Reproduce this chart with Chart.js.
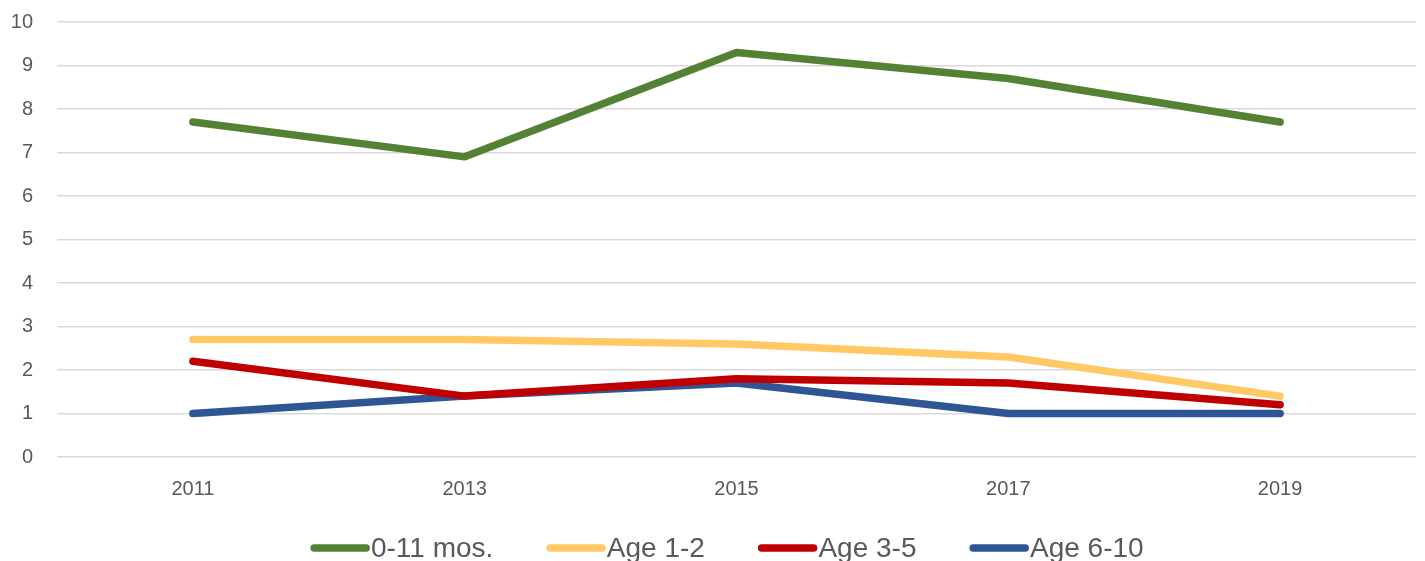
<!DOCTYPE html>
<html>
<head>
<meta charset="utf-8">
<script src="https://cdn.jsdelivr.net/npm/chart.js@4"></script>
<style>
  html, body { margin: 0; padding: 0; background: #fff; overflow: hidden; }
  #wrap { width: 1425px; height: 561px; }
</style>
</head>
<body>
<div id="wrap"><canvas id="ageChart"></canvas></div>
<script>
const years = ['2011', '2013', '2015', '2017', '2019'];
const infants = [7.7, 6.9, 9.3, 8.7, 7.7];
const age1to2 = [2.7, 2.7, 2.6, 2.3, 1.4];
const age3to5 = [2.2, 1.4, 1.8, 1.7, 1.2];
const age6to10 = [1.0, 1.4, 1.7, 1.0, 1.0];

// legend drawn by hand so the long markers sit right against the text, like the original
const bottomLegend = {
  id: 'bottomLegend',
  afterDraw(chart) {
    const ctx = chart.ctx;
    const sets = chart.data.datasets;
    const markLen = 52, cap = 3.75, gap = 53, y = 548;
    ctx.save();
    ctx.font = '28px "Liberation Sans", Arial, sans-serif';
    const widths = sets.map(d => ctx.measureText(d.label).width);
    let total = 0;
    widths.forEach((w, i) => { total += markLen + cap * 2 + 1 + w + (i ? gap : 0); });
    let x = 727 - total / 2;
    sets.forEach((d, i) => {
      ctx.strokeStyle = d.borderColor;
      ctx.lineWidth = 7.5;
      ctx.lineCap = 'round';
      ctx.beginPath();
      ctx.moveTo(x + cap, y);
      ctx.lineTo(x + cap + markLen, y);
      ctx.stroke();
      x += markLen + cap * 2 + 1;
      ctx.fillStyle = '#595959';
      ctx.textBaseline = 'middle';
      ctx.textAlign = 'left';
      ctx.fillText(d.label, x, y + 1);
      x += widths[i] + gap;
    });
    ctx.restore();
  }
};

function series(label, data, color) {
  return {
    label: label,
    data: data,
    borderColor: color,
    backgroundColor: color,
    borderWidth: 7.5,
    borderCapStyle: 'round',
    borderJoinStyle: 'round',
    pointRadius: 0,
    pointHoverRadius: 0,
    tension: 0
  };
}

document.addEventListener('DOMContentLoaded', () => {
  const ctx = document.getElementById('ageChart').getContext('2d');

  new Chart(ctx, {
    type: 'line',
    data: {
      labels: years,
      datasets: [
        series('0-11 mos.', infants, '#548235'),
        series('Age 1-2', age1to2, '#ffca66'),
        series('Age 3-5', age3to5, '#c00000'),
        series('Age 6-10', age6to10, '#2f5597')
      ]
    },
    options: {
      responsive: true,
      maintainAspectRatio: false,
      animation: false,
      layout: {
        padding: { top: 22, right: 9, bottom: 40, left: 0 }
      },
      plugins: {
        legend: { display: false },
        tooltip: { enabled: false }
      },
      scales: {
        x: {
          offset: true,
          grid: { display: false, drawTicks: false },
          border: { display: false },
          ticks: {
            color: '#595959',
            padding: 20,
            font: { family: '"Liberation Sans", Arial, sans-serif', size: 20 }
          }
        },
        y: {
          min: 0,
          max: 10,
          afterFit(scale) {
            scale.width = 57;
            scale.paddingTop = 0;
            scale.paddingBottom = 0;
          },
          grid: { color: '#d9d9d9', lineWidth: 1.4, drawTicks: false },
          border: { display: false },
          ticks: {
            stepSize: 1,
            color: '#595959',
            padding: 24,
            font: { family: '"Liberation Sans", Arial, sans-serif', size: 20 }
          }
        }
      }
    },
    plugins: [bottomLegend]
  });
});
</script>
</body>
</html>
